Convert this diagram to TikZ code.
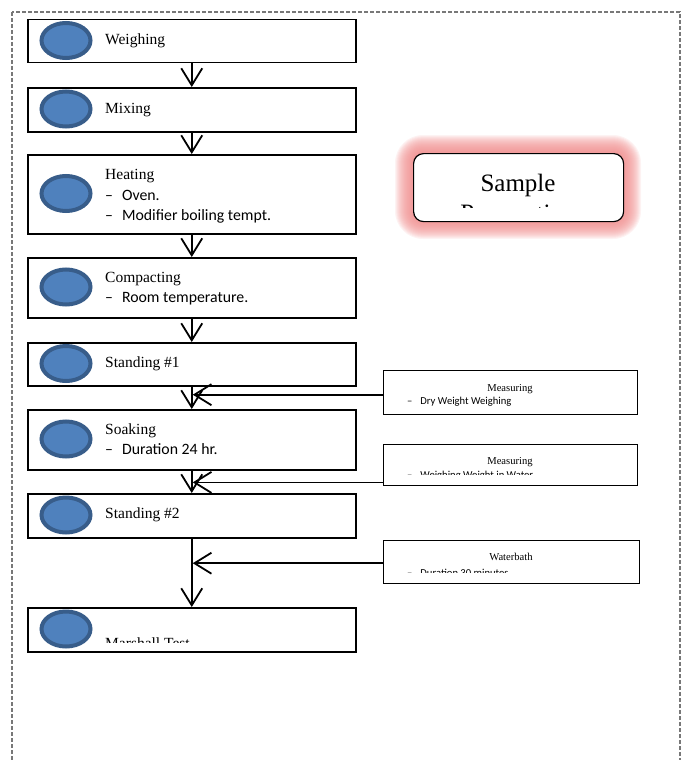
\documentclass[tikz,border=0pt]{standalone}
\usepackage{fontspec}
\setmainfont{Liberation Serif}
\newfontfamily\calib{Carlito}
\usetikzlibrary{arrows.meta,shapes.geometric,calc}
\definecolor{ellfill}{RGB}{79,129,189}
\definecolor{ellline}{RGB}{56,93,138}
\definecolor{glowc}{RGB}{240,140,140}
\definecolor{dashc}{RGB}{120,120,120}
\tikzset{
  mainbox/.style={draw=black, line width=1.5pt, fill=white, rectangle, anchor=north west, minimum width=328pt, inner sep=0pt},
  sidebox/.style={draw=black, line width=1.4pt, fill=white, rectangle, anchor=north west, inner sep=0pt},
  ell/.style={ellipse, draw=ellline, fill=ellfill, line width=4pt, minimum width=49pt, minimum height=35pt, inner sep=0pt},
  ttl/.style={anchor=base west, inner sep=0pt, font=\fontsize{15.5}{18}\selectfont},
  sub/.style={anchor=base west, inner sep=0pt, font=\calib\fontsize{15.8}{18}\selectfont},
  stl/.style={anchor=base, inner sep=0pt, font=\fontsize{10.6}{12}\selectfont},
  ssub/.style={anchor=base west, inner sep=0pt, font=\calib\fontsize{10.6}{12}\selectfont},
  arr/.style={line width=1.8pt, -{Straight Barb[length=17pt,width=21pt,line width=1.8pt]}},
}
\begin{document}
\begin{tikzpicture}[x=1pt,y=-1pt]
\useasboundingbox (0,0) rectangle (686,760);
% outer dashed frame
\draw[dashc, line width=1.2pt, dash pattern=on 4pt off 2pt] (12,12) rectangle (680,800);

% main boxes
\node[mainbox, minimum height=43pt] (b1) at (27,19) {};
\node[mainbox, minimum height=44pt] (b2) at (27,87) {};
\node[mainbox, minimum height=79pt] (b3) at (27,154) {};
\node[mainbox, minimum height=60pt] (b4) at (27,257) {};
\node[mainbox, minimum height=43pt] (b5) at (27,342) {};
\node[mainbox, minimum height=60pt] (b6) at (27,409) {};
\node[mainbox, minimum height=44pt] (b7) at (27,493) {};
\node[mainbox, minimum height=44pt] (b8) at (27,607) {};

% ellipses
\node[ell] (e1) at (66,40.5) {};
\node[ell] (e2) at (66,109) {};
\node[ell] (e3) at (66,193.5) {};
\node[ell] (e4) at (66,287) {};
\node[ell] (e5) at (66,363.5) {};
\node[ell] (e6) at (66,439) {};
\node[ell] (e7) at (66,515) {};
\node[ell] (e8) at (66,629) {};

% main texts
\node[ttl] (t1) at (105,45) {Weighing};
\node[ttl] (t2) at (105,113) {Mixing};
\node[ttl] (t3) at (105,179) {Heating};
\node[sub] (t3a) at (105,200) {–\hspace{9pt}Oven.};
\node[sub] (t3b) at (105,220) {–\hspace{9pt}Modifier boiling tempt.};
\node[ttl] (t4) at (105,282) {Compacting};
\node[sub] (t4a) at (105,302) {–\hspace{9pt}Room temperature.};
\node[ttl] (t5) at (105,367) {Standing \#1};
\node[ttl] (t6) at (105,434) {Soaking};
\node[sub] (t6a) at (105,454) {–\hspace{9pt}Duration 24 hr.};
\node[ttl] (t7) at (105,518) {Standing \#2};
\begin{scope}
\clip (28,608) rectangle (354,642);
\node[ttl] (t8) at (105,648) {Marshall Test};
\end{scope}

% side boxes
\node[sidebox, minimum width=254pt, minimum height=44pt] (m1) at (383,370) {};
\node[stl] (m1t) at (510,391) {Measuring};
\node[ssub] (m1s) at (407,404) {–\hspace{8pt}Dry Weight Weighing};

\node[sidebox, minimum width=254pt, minimum height=41pt] (m2) at (383,444) {};
\node[stl] (m2t) at (510,464) {Measuring};
\begin{scope}
\clip (384,445) rectangle (636,474);
\node[ssub] (m2s) at (407,478) {–\hspace{8pt}Weighing Weight in Water};
\end{scope}

\node[sidebox, minimum width=256pt, minimum height=43pt] (m3) at (383,540) {};
\node[stl] (m3t) at (511,560) {Waterbath};
\begin{scope}
\clip (384,541) rectangle (638,572);
\node[ssub] (m3s) at (407,576) {–\hspace{8pt}Duration 30 minutes};
\end{scope}

% sample preparation with glow
\foreach \r in {18,...,1} {
  \fill[glowc, opacity=0.1, rounded corners={(10+\r)*1pt}] ({413-\r},{153-\r}) rectangle ({623+\r},{221+\r});
}
\node[sidebox, line width=1.2pt, rounded corners=10pt, minimum width=210pt, minimum height=68pt] (sp) at (413,153) {};
\begin{scope}
\clip (414,154) rectangle (622,207);
\node[anchor=base, inner sep=0pt, font=\fontsize{25}{29}\selectfont] (spt) at (518,191) {Sample};
\node[anchor=base, inner sep=0pt, font=\fontsize{25}{29}\selectfont] (spt2) at (518,221) {Preparation};
\end{scope}

% vertical arrows
\draw[arr] (b1.south) -- (b2.north);
\draw[arr] (b2.south) -- (b3.north);
\draw[arr] (b3.south) -- (b4.north);
\draw[arr] (b4.south) -- (b5.north);
\draw[arr] (b5.south) -- (b6.north);
\draw[arr] (b6.south) -- (b7.north);
\draw[arr] (b7.south) -- (b8.north);

% side arrows
\coordinate (c1) at ($(m1.west)+(0,2)$);
\coordinate (c2) at ($(m2.south west)+(0,-4)$);
\coordinate (c3) at ($(m3.west)+(0,1)$);
\draw[arr, shorten >=-1pt] (c1) -- ([xshift=2pt]c1 -| b5.south);
\draw[arr, shorten >=-1pt] (c2) -- ([xshift=2pt]c2 -| b6.south);
\draw[arr, shorten >=-1pt] (c3) -- ([xshift=2pt]c3 -| b7.south);
\end{tikzpicture}
\end{document}
